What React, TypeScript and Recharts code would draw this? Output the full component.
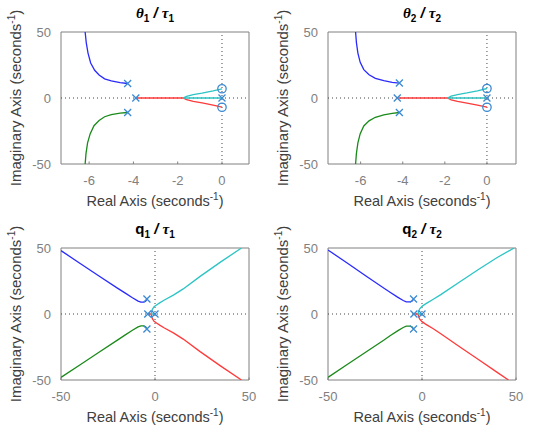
import React from 'react';
import { ComposedChart, Line, Scatter, XAxis, YAxis, ReferenceLine, ReferenceArea } from 'recharts';

// theta1 / tau1
const t1Blue = [{ x: -4.26, y: 11 }, { x: -4.6, y: 11.6 }, { x: -5.0, y: 12.9 }, { x: -5.3, y: 14.5 }, { x: -5.55, y: 17.4 }, { x: -5.75, y: 21 }, { x: -5.93, y: 26.5 }, { x: -6.05, y: 34 }, { x: -6.13, y: 42 }, { x: -6.18, y: 50 }];
const t1Green = [{ x: -4.26, y: -11 }, { x: -4.6, y: -11.5 }, { x: -5.0, y: -12.6 }, { x: -5.3, y: -14.2 }, { x: -5.55, y: -17 }, { x: -5.78, y: -21 }, { x: -5.95, y: -27 }, { x: -6.07, y: -34 }, { x: -6.14, y: -42 }, { x: -6.18, y: -50 }];
const t1Red = [{ x: -3.89, y: 0 }, { x: -1.76, y: 0 }, { x: -1.6, y: -1.3 }, { x: -1.3, y: -2.5 }, { x: -0.9, y: -3.7 }, { x: -0.4, y: -5.4 }, { x: 0, y: -7 }];
const t1Cyan = [{ x: 0, y: 0 }, { x: -1.76, y: 0 }, { x: -1.6, y: 1.3 }, { x: -1.3, y: 2.5 }, { x: -0.9, y: 3.7 }, { x: -0.4, y: 5.4 }, { x: 0, y: 7 }];
const t1Poles = [{ x: -4.26, y: 11 }, { x: -4.26, y: -11 }, { x: -3.89, y: 0 }, { x: 0, y: 0 }];
const t1Zeros = [{ x: 0, y: 7 }, { x: 0, y: -7 }];

// theta2 / tau2
const t2Blue = [{ x: -4.16, y: 11.3 }, { x: -4.5, y: 11.9 }, { x: -4.9, y: 13.1 }, { x: -5.3, y: 14.9 }, { x: -5.6, y: 17.6 }, { x: -5.85, y: 21.5 }, { x: -6.02, y: 27 }, { x: -6.13, y: 34 }, { x: -6.2, y: 42 }, { x: -6.24, y: 50 }];
const t2Green = [{ x: -4.16, y: -11 }, { x: -4.5, y: -11.6 }, { x: -4.9, y: -12.8 }, { x: -5.3, y: -14.6 }, { x: -5.6, y: -17.3 }, { x: -5.85, y: -21.2 }, { x: -6.02, y: -27 }, { x: -6.13, y: -34 }, { x: -6.2, y: -42 }, { x: -6.24, y: -50 }];
const t2Red = [{ x: -4.26, y: 0 }, { x: -1.87, y: 0 }, { x: -1.7, y: -1.4 }, { x: -1.4, y: -2.6 }, { x: -0.95, y: -3.8 }, { x: -0.45, y: -5.4 }, { x: 0, y: -7 }];
const t2Cyan = [{ x: 0, y: 0 }, { x: -1.87, y: 0 }, { x: -1.7, y: 1.4 }, { x: -1.4, y: 2.6 }, { x: -0.95, y: 3.8 }, { x: -0.45, y: 5.4 }, { x: 0, y: 7.2 }];
const t2Poles = [{ x: -4.16, y: 11.3 }, { x: -4.16, y: -11 }, { x: -4.26, y: 0 }, { x: 0, y: 0 }];
const t2Zeros = [{ x: 0, y: 7.2 }, { x: 0, y: -7 }];

// q1 / tau1
const q1Blue = [{ x: -4.3, y: 11.3 }, { x: -5, y: 9.6 }, { x: -6, y: 9.0 }, { x: -7.5, y: 9.0 }, { x: -9, y: 9.8 }, { x: -12, y: 12.3 }, { x: -16, y: 16 }, { x: -20, y: 19.6 }, { x: -30, y: 29 }, { x: -40, y: 38.5 }, { x: -50, y: 48 }];
const q1Green = [{ x: -4.3, y: -11.3 }, { x: -5, y: -9.6 }, { x: -6, y: -9.0 }, { x: -7.5, y: -9.0 }, { x: -9, y: -9.8 }, { x: -12, y: -12.3 }, { x: -16, y: -16 }, { x: -20, y: -19.8 }, { x: -30, y: -29.2 }, { x: -40, y: -38.6 }, { x: -50, y: -48 }];
const q1Cyan = [{ x: 0, y: 0 }, { x: -1.9, y: 0 }, { x: -1.85, y: 1.5 }, { x: -1.4, y: 3.5 }, { x: -0.5, y: 5.5 }, { x: 1, y: 7 }, { x: 2.5, y: 8.4 }, { x: 5, y: 10.6 }, { x: 10, y: 14.5 }, { x: 15, y: 19 }, { x: 24, y: 28.5 }, { x: 35, y: 39.5 }, { x: 46, y: 50 }];
const q1Red = [{ x: -3.85, y: 0 }, { x: -1.9, y: 0 }, { x: -1.85, y: -1.5 }, { x: -1.4, y: -3.5 }, { x: -0.5, y: -5.5 }, { x: 1, y: -7 }, { x: 2.5, y: -8.4 }, { x: 5, y: -10.6 }, { x: 10, y: -14.5 }, { x: 15, y: -19 }, { x: 24, y: -28.5 }, { x: 35, y: -39.5 }, { x: 46, y: -50 }];
const q1Poles = [{ x: -4.3, y: 11.3 }, { x: -4.3, y: -11.3 }, { x: -3.85, y: 0 }, { x: 0, y: 0 }];

// q2 / tau2
const q2Blue = [{ x: -4.5, y: 11.3 }, { x: -5.2, y: 9.8 }, { x: -6.5, y: 9.2 }, { x: -8.4, y: 9.2 }, { x: -10, y: 10.2 }, { x: -13, y: 12.8 }, { x: -17, y: 16.5 }, { x: -20, y: 19.3 }, { x: -30, y: 29 }, { x: -40, y: 38.8 }, { x: -50, y: 48.5 }];
const q2Green = [{ x: -4.5, y: -11.3 }, { x: -5.2, y: -9.8 }, { x: -6.5, y: -9.2 }, { x: -8.4, y: -9.2 }, { x: -10, y: -10.2 }, { x: -13, y: -12.8 }, { x: -17, y: -16.5 }, { x: -20, y: -19.5 }, { x: -30, y: -29 }, { x: -40, y: -38.5 }, { x: -50, y: -48 }];
const q2Cyan = [{ x: 0, y: 0 }, { x: -2, y: 0 }, { x: -1.9, y: 1.6 }, { x: -1.3, y: 3.8 }, { x: 0, y: 5.8 }, { x: 1.5, y: 7.3 }, { x: 3, y: 8.6 }, { x: 6, y: 11.2 }, { x: 10, y: 14.7 }, { x: 20, y: 24.3 }, { x: 30, y: 33.7 }, { x: 40, y: 42.8 }, { x: 49, y: 50 }];
const q2Red = [{ x: -4.3, y: 0 }, { x: -2, y: 0 }, { x: -1.9, y: -1.6 }, { x: -1.3, y: -3.8 }, { x: 0, y: -5.8 }, { x: 1.5, y: -7.3 }, { x: 3, y: -8.6 }, { x: 6, y: -11.2 }, { x: 10, y: -15 }, { x: 20, y: -24.8 }, { x: 30, y: -34.5 }, { x: 40, y: -44.2 }, { x: 46, y: -50 }];
const q2Poles = [{ x: -4.5, y: 11.3 }, { x: -4.5, y: -11.3 }, { x: -4.3, y: 0 }, { x: 0, y: 0 }];

const thetaTicks = [-6, -4, -2, 0];
const wideTicks = [-50, 0, 50];
const yTicks = [-50, 0, 50];

const FONT = '"Liberation Sans", Arial, Helvetica, sans-serif';
const GRAY = '#808080';
const MARK = '#3b8ad4';
const W = 268;
const H = 216;
const M = { top: 32, right: 19, left: 16, bottom: 22 };
const BOX_BOTTOM = H - M.bottom - 30;

const XMark = (props: any) => {
  const { cx, cy } = props;
  const s = 3.5;
  return (
    <path d={`M${cx - s},${cy - s}L${cx + s},${cy + s}M${cx - s},${cy + s}L${cx + s},${cy - s}`} stroke={MARK} strokeWidth={1.3} fill="none" />
  );
};

const OMark = (props: any) => <circle cx={props.cx} cy={props.cy} r={4.2} stroke={MARK} strokeWidth={1.3} fill="none" />;

const XTick = (props: any) => {
  const { x, y, payload } = props;
  return (
    <g>
      <line x1={x} x2={x} y1={BOX_BOTTOM} y2={BOX_BOTTOM - 2.5} stroke={GRAY} />
      <text x={x} y={y} dy="0.71em" textAnchor="middle" fill={GRAY} fontSize={13} fontFamily={FONT}>{payload.value}</text>
    </g>
  );
};

const YTick = (props: any) => {
  const { x, y, payload } = props;
  return (
    <text x={x} y={y} dy="0.36em" textAnchor="end" fill={GRAY} fontSize={13} fontFamily={FONT}>{payload.value}</text>
  );
};

const XLabel = (props: any) => {
  const { viewBox } = props;
  const cx = viewBox.x + viewBox.width / 2;
  const cy = viewBox.y + 42;
  return (
    <text x={cx} y={cy} textAnchor="middle" fill="#404040" fontSize={14.5} fontFamily={FONT}>
      Real Axis (seconds<tspan dy={-6} fontSize={10}>-1</tspan><tspan dy={6}>)</tspan>
    </text>
  );
};

const YLabel = (props: any) => {
  const { viewBox } = props;
  const cx = viewBox.x + 5;
  const cy = viewBox.y + viewBox.height / 2;
  return (
    <text x={cx} y={cy} transform={`rotate(-90 ${cx} ${cy})`} textAnchor="middle" fill="#404040" fontSize={15} fontFamily={FONT}>
      Imaginary Axis (seconds<tspan dy={-6} fontSize={10}>-1</tspan><tspan dy={6}>)</tspan>
    </text>
  );
};

const Panel = ({ left, top, title, xDomain, xTicks, blue, green, red, cyan, poles, zeros }: any) => (
  <div style={{ position: 'absolute', left, top, width: W, height: H }}>
    <div style={{ position: 'absolute', left: M.left + 45, width: W - M.left - 45 - M.right, top: 4, textAlign: 'center', fontFamily: FONT, fontWeight: 'bold', fontSize: 15, color: '#000', lineHeight: '18px' }}>
      {title}
    </div>
    <ComposedChart width={W} height={H} margin={M}>
      <XAxis type="number" dataKey="x" domain={xDomain} ticks={xTicks} allowDataOverflow axisLine={false} tickLine={false} tickSize={0} tickMargin={12} height={30} tick={<XTick />} label={<XLabel />} />
      <YAxis type="number" dataKey="y" domain={[-50, 50]} ticks={yTicks} allowDataOverflow axisLine={false} tickLine={false} tickSize={0} tickMargin={10} width={45} tick={<YTick />} label={<YLabel />} />
      <ReferenceArea x1={xDomain[0]} x2={xDomain[1]} y1={-50} y2={50} fill="#fff" fillOpacity={1} stroke={GRAY} strokeWidth={1} />
      <ReferenceLine x={0} stroke="#444" strokeDasharray="1 3" />
      <ReferenceLine y={0} stroke="#444" strokeDasharray="1 3" />
      <Line data={blue} dataKey="y" type="linear" stroke="#2a2aff" strokeWidth={1.3} dot={false} isAnimationActive={false} />
      <Line data={green} dataKey="y" type="linear" stroke="#1a8a1a" strokeWidth={1.3} dot={false} isAnimationActive={false} />
      <Line data={red} dataKey="y" type="linear" stroke="#ff3a3a" strokeWidth={1.3} dot={false} isAnimationActive={false} />
      <Line data={cyan} dataKey="y" type="linear" stroke="#2cc4c4" strokeWidth={1.3} dot={false} isAnimationActive={false} />
      <Scatter data={poles} dataKey="y" shape={XMark} isAnimationActive={false} />
      {zeros && <Scatter data={zeros} dataKey="y" shape={OMark} isAnimationActive={false} />}
    </ComposedChart>
  </div>
);

const Title = ({ a, b }: { a: React.ReactNode; b: string }) => (
  <span>
    {a}<sub style={{ fontSize: 10 }}>{b}</sub> <i>/</i> <i style={{ fontFamily: 'serif' }}>τ</i><sub style={{ fontSize: 10 }}>{b}</sub>
  </span>
);

export default function App() {
  return (
    <div style={{ position: 'fixed', left: 0, top: 0, width: 537, height: 433, background: '#fff' }}>
      <Panel left={0} top={0} title={<Title a={<i style={{ fontFamily: 'serif' }}>θ</i>} b="1" />} xDomain={[-7.27, 1.22]} xTicks={thetaTicks}
        blue={t1Blue} green={t1Green} red={t1Red} cyan={t1Cyan} poles={t1Poles} zeros={t1Zeros} />
      <Panel left={267} top={0} title={<Title a={<i style={{ fontFamily: 'serif' }}>θ</i>} b="2" />} xDomain={[-7.55, 1.38]} xTicks={thetaTicks}
        blue={t2Blue} green={t2Green} red={t2Red} cyan={t2Cyan} poles={t2Poles} zeros={t2Zeros} />
      <Panel left={0} top={216} title={<Title a="q" b="1" />} xDomain={[-50, 50]} xTicks={wideTicks}
        blue={q1Blue} green={q1Green} red={q1Red} cyan={q1Cyan} poles={q1Poles} />
      <Panel left={267} top={216} title={<Title a="q" b="2" />} xDomain={[-50, 50]} xTicks={wideTicks}
        blue={q2Blue} green={q2Green} red={q2Red} cyan={q2Cyan} poles={q2Poles} />
    </div>
  );
}
